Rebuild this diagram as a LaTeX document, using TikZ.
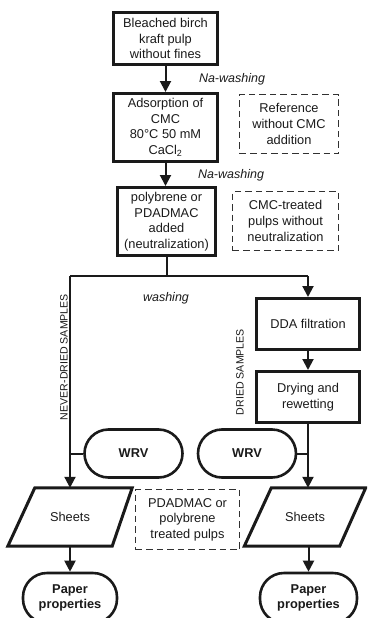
\documentclass[tikz,border=0pt]{standalone}
\usepackage{fontspec}
\setmainfont{Liberation Sans}
\usetikzlibrary{arrows.meta}
\definecolor{ink}{HTML}{1A1A1A}
\begin{document}
\begin{tikzpicture}[x=1pt,y=-1pt,
  every node/.style={font=\fontsize{12.8}{15.6}\selectfont, align=center, inner sep=0pt, text=ink},
  proc/.style={draw=ink, line width=3pt},
  note/.style={draw=ink!90, line width=1.2pt, dash pattern=on 6.5pt off 4pt},
  term/.style={draw=ink, line width=2.6pt, rounded corners=24pt, font=\fontsize{12.8}{15.6}\selectfont\bfseries},
  conn/.style={draw=ink, line width=2pt},
  arr/.style={conn, -{Triangle[width=11pt,length=11pt]}},
  lab/.style={font=\fontsize{12.5}{15}\selectfont\itshape},
  side/.style={rotate=90, font=\fontsize{10.6}{12}\selectfont}
]
\useasboundingbox (0,0) rectangle (367,618);
\clip (0,0) rectangle (367,618);

% main column
\node[proc, minimum width=104, minimum height=52] (b1) at (165.5,38.5) {Bleached birch\\kraft pulp\\without fines};
\node[proc, minimum width=104, minimum height=68] (b2) at (165.5,127.5) {Adsorption of\\CMC\\80°C 50 mM\\CaCl\textsubscript{2}};
\node[proc, minimum width=98, minimum height=68] (b3) at (166.5,221.5) {polybrene or\\PDADMAC\\added\\(neutralization)};

% dashed notes
\node[note, minimum width=99, minimum height=59] (d1) at (289,124) {Reference\\without CMC\\addition};
\node[note, minimum width=106, minimum height=59] (d2) at (285.5,221) {CMC-treated\\pulps without\\neutralization};
\node[note, minimum width=104, minimum height=60] (d3) at (187.5,519.5) {PDADMAC or\\polybrene\\treated pulps};

% right column
\node[proc, minimum width=103, minimum height=51] (dda) at (308,324) {DDA filtration};
\node[proc, minimum width=103, minimum height=51] (dry) at (308,397) {Drying and\\rewetting};

% WRV terminals
\node[term, minimum width=98, minimum height=48] (wl) at (133.5,453.5) {WRV};
\node[term, minimum width=98, minimum height=48] (wr) at (247,453.5) {WRV};

% sheets (parallelograms drawn around named nodes)
\node[minimum width=98, minimum height=58] (sl) at (70,517) {Sheets};
\node[minimum width=95, minimum height=58] (sr) at (305,517) {Sheets};
\draw[proc, line join=miter] ([xshift=-13pt]sl.south west) -- ([xshift=14pt]sl.north west) -- ([xshift=13pt]sl.north east) -- ([xshift=-7pt]sl.south east) -- cycle;
\draw[proc, line join=miter] ([xshift=-13pt]sr.south west) -- ([xshift=14pt]sr.north west) -- ([xshift=13pt]sr.north east) -- ([xshift=-13pt]sr.south east) -- cycle;

% paper properties
\node[term, minimum width=94, minimum height=50] (pl) at (70,598) {Paper\\properties};
\node[term, minimum width=97, minimum height=50] (pr) at (308.5,598) {Paper\\properties};

% connectors
\coordinate (jl) at (70,276);
\coordinate (jr) at (308,276);
\draw[arr] (b1.south) -- (b1.south |- b2.north);
\draw[arr] (b2.south) -- (b2.south |- b3.north);
\draw[conn] (b3.south) -- (b3.south |- jl);
\draw[conn] (jl) -- (jr);
\draw[arr] (jr) -- (dda.north);
\draw[arr] (jl) -- (sl.north);
\draw[arr] (dda.south) -- (dry.north);
\draw[arr] (dry.south) -- (sr.north -| dry.south);
\draw[conn] (wl.west) -- (wl.west -| jl);
\draw[conn] (wr.east) -- (wr.east -| dry.south);
\draw[arr] (sl.south) -- (pl.north);
\draw[arr] (sr.south -| pr.north) -- (pr.north);

% labels
\node[lab] (l1) at (232,79) {Na-washing};
\node[lab] (l2) at (231,175) {Na-washing};
\node[lab] (l3) at (166,298) {washing};
\node[side] (s1) at (64,357) {NEVER-DRIED SAMPLES};
\node[side] (s2) at (240,372) {DRIED SAMPLES};
\end{tikzpicture}
\end{document}
